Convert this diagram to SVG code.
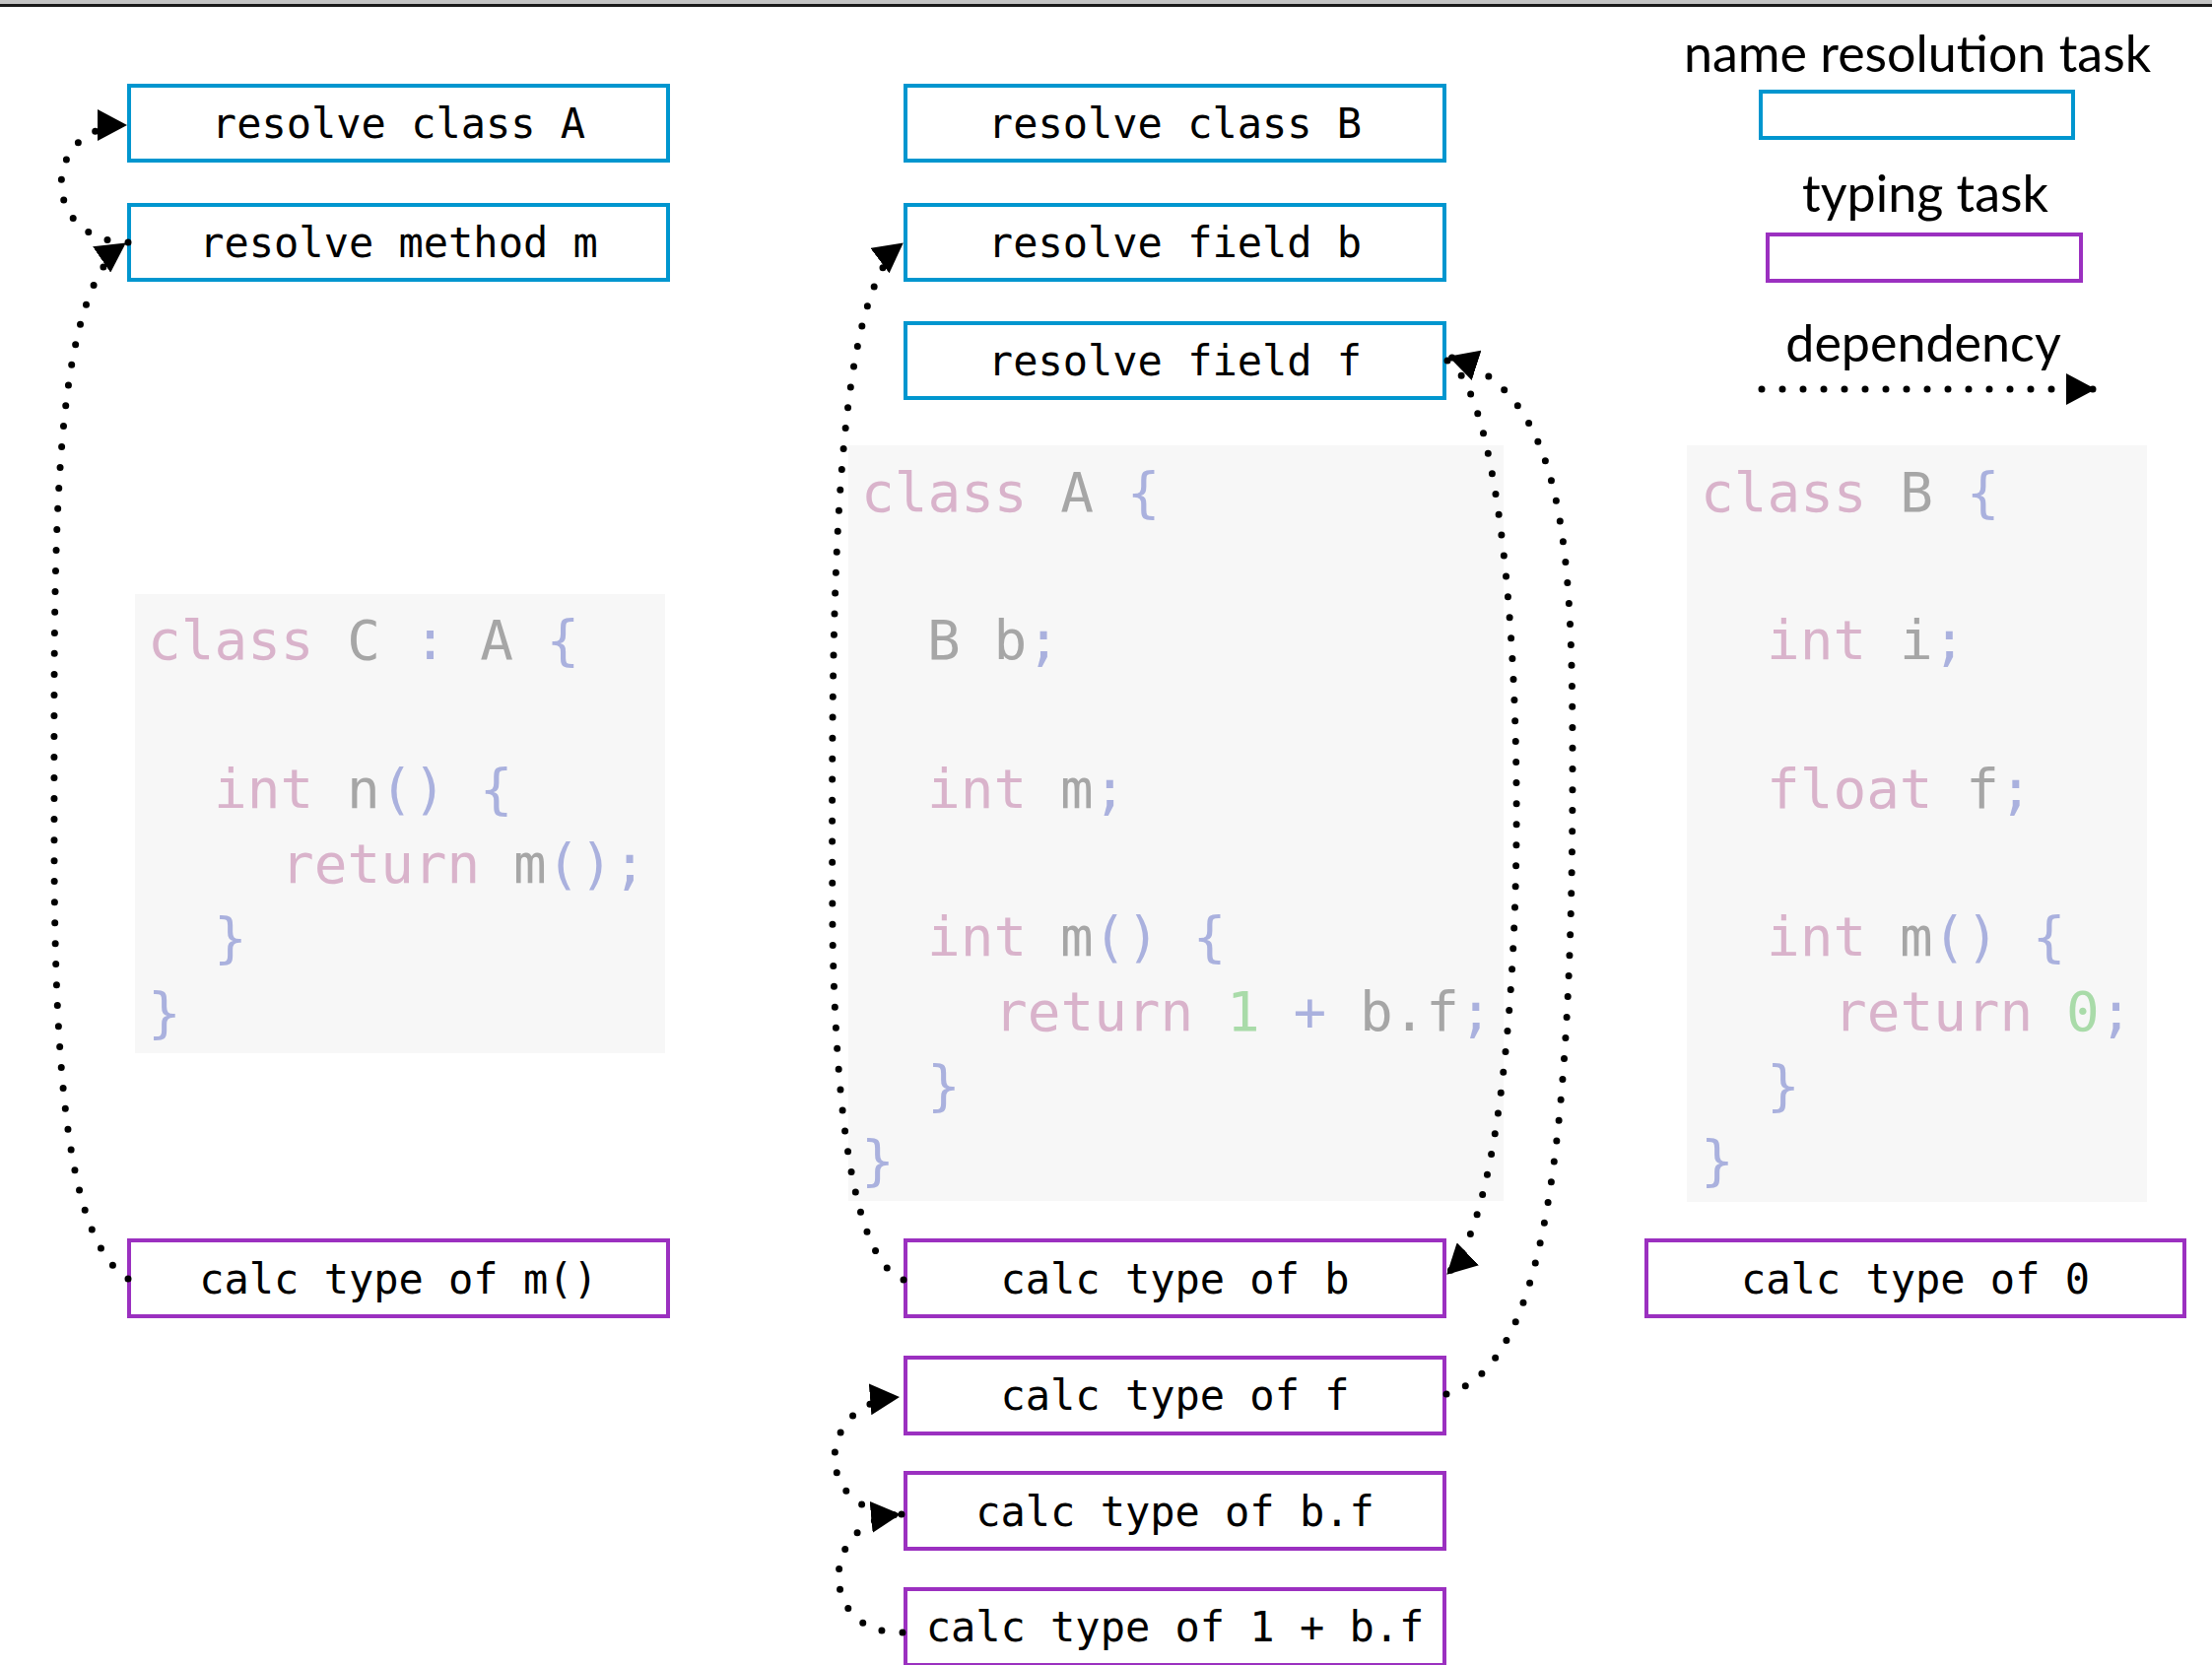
<svg xmlns="http://www.w3.org/2000/svg" width="2245" height="1690" viewBox="0 0 2245 1690">
<defs>
<style>
.task text, .lbl { font-family: "DejaVu Sans Mono", "Liberation Mono", monospace; font-size: 42px; fill: #000; text-anchor: middle; }
.nr { fill: #fff; stroke: #0096cf; stroke-width: 4; }
.ty { fill: #fff; stroke: #9b30c0; stroke-width: 4; }
.panel { fill: #f7f7f7; }
.code { font-family: "DejaVu Sans Mono", "Liberation Mono", monospace; font-size: 56px; }
.kw { fill: #d9b3cb; }
.id { fill: #a6a6a6; }
.pu { fill: #aab1de; }
.nu { fill: #a9dba9; }
.dep { fill: none; stroke: #000; stroke-width: 7; stroke-linecap: round; stroke-dasharray: 0 21; marker-end: url(#ah); }
.legend-text { font-family: "Lato", "Open Sans", sans-serif; font-size: 52px; fill: #000; text-anchor: middle; }
</style>
<marker id="ah" markerUnits="userSpaceOnUse" markerWidth="30" markerHeight="32" viewBox="0 0 30 32" refX="29" refY="16" orient="auto">
<path d="M0,0 L30,16 L0,32 z" fill="#000"/>
</marker>
</defs>
<rect x="0" y="0" width="2245" height="1690" fill="#fff"/>
<rect x="0" y="0" width="2245" height="4" fill="#c4c4c4"/>
<rect x="0" y="4" width="2245" height="3" fill="#1a1a1a"/>

<g id="panel-class-C">
<rect class="panel" x="137" y="603" width="538" height="466"/>
<text class="code" xml:space="preserve" x="150" y="669"><tspan class="kw">class</tspan> <tspan class="id">C</tspan> <tspan class="pu">:</tspan> <tspan class="id">A</tspan> <tspan class="pu">{</tspan></text>
<text class="code" xml:space="preserve" x="217" y="820"><tspan class="kw">int</tspan> <tspan class="id">n</tspan><tspan class="pu">()</tspan> <tspan class="pu">{</tspan></text>
<text class="code" xml:space="preserve" x="285" y="896"><tspan class="kw">return</tspan> <tspan class="id">m</tspan><tspan class="pu">();</tspan></text>
<text class="code pu" x="217" y="971">}</text>
<text class="code pu" x="150" y="1047">}</text>
</g>

<g id="panel-class-A">
<rect class="panel" x="861" y="452" width="665" height="767"/>
<text class="code" xml:space="preserve" x="874" y="519"><tspan class="kw">class</tspan> <tspan class="id">A</tspan> <tspan class="pu">{</tspan></text>
<text class="code" xml:space="preserve" x="941" y="669"><tspan class="id">B</tspan> <tspan class="id">b</tspan><tspan class="pu">;</tspan></text>
<text class="code" xml:space="preserve" x="941" y="820"><tspan class="kw">int</tspan> <tspan class="id">m</tspan><tspan class="pu">;</tspan></text>
<text class="code" xml:space="preserve" x="941" y="970"><tspan class="kw">int</tspan> <tspan class="id">m</tspan><tspan class="pu">()</tspan> <tspan class="pu">{</tspan></text>
<text class="code" xml:space="preserve" x="1009" y="1046"><tspan class="kw">return</tspan> <tspan class="nu">1</tspan> <tspan class="pu">+</tspan> <tspan class="id">b.f</tspan><tspan class="pu">;</tspan></text>
<text class="code pu" x="941" y="1121">}</text>
<text class="code pu" x="874" y="1197">}</text>
</g>

<g id="panel-class-B">
<rect class="panel" x="1712" y="452" width="467" height="768"/>
<text class="code" xml:space="preserve" x="1726" y="519"><tspan class="kw">class</tspan> <tspan class="id">B</tspan> <tspan class="pu">{</tspan></text>
<text class="code" xml:space="preserve" x="1793" y="669"><tspan class="kw">int</tspan> <tspan class="id">i</tspan><tspan class="pu">;</tspan></text>
<text class="code" xml:space="preserve" x="1793" y="820"><tspan class="kw">float</tspan> <tspan class="id">f</tspan><tspan class="pu">;</tspan></text>
<text class="code" xml:space="preserve" x="1793" y="970"><tspan class="kw">int</tspan> <tspan class="id">m</tspan><tspan class="pu">()</tspan> <tspan class="pu">{</tspan></text>
<text class="code" xml:space="preserve" x="1861" y="1046"><tspan class="kw">return</tspan> <tspan class="nu">0</tspan><tspan class="pu">;</tspan></text>
<text class="code pu" x="1793" y="1121">}</text>
<text class="code pu" x="1726" y="1197">}</text>
</g>

<g id="resolve-class-A" class="task"><rect class="nr" x="131" y="87" width="547" height="76"/><text x="404.5" y="140">resolve class A</text></g>
<g id="resolve-method-m" class="task"><rect class="nr" x="131" y="208" width="547" height="76"/><text x="404.5" y="261">resolve method m</text></g>
<g id="calc-type-m-call" class="task"><rect class="ty" x="131" y="1259" width="547" height="77"/><text x="404.5" y="1313">calc type of m()</text></g>

<g id="resolve-class-B" class="task"><rect class="nr" x="919" y="87" width="547" height="76"/><text x="1192.5" y="140">resolve class B</text></g>
<g id="resolve-field-b" class="task"><rect class="nr" x="919" y="208" width="547" height="76"/><text x="1192.5" y="261">resolve field b</text></g>
<g id="resolve-field-f" class="task"><rect class="nr" x="919" y="328" width="547" height="76"/><text x="1192.5" y="381">resolve field f</text></g>
<g id="calc-type-b" class="task"><rect class="ty" x="919" y="1259" width="547" height="77"/><text x="1192.5" y="1313">calc type of b</text></g>
<g id="calc-type-f" class="task"><rect class="ty" x="919" y="1378" width="547" height="77"/><text x="1192.5" y="1431">calc type of f</text></g>
<g id="calc-type-b-f" class="task"><rect class="ty" x="919" y="1495" width="547" height="77"/><text x="1192.5" y="1549">calc type of b.f</text></g>
<g id="calc-type-1-plus-b-f" class="task"><rect class="ty" x="919" y="1613" width="547" height="77"/><text x="1192.5" y="1666">calc type of 1 + b.f</text></g>

<g id="calc-type-0" class="task"><rect class="ty" x="1671" y="1259" width="546" height="77"/><text x="1944" y="1313">calc type of 0</text></g>

<g id="legend">
<text class="legend-text" x="1946" y="73">name resolution task</text>
<rect class="nr" x="1787" y="93" width="317" height="47"/>
<text class="legend-text" x="1954" y="215">typing task</text>
<rect class="ty" x="1794" y="238" width="318" height="47"/>
<text class="legend-text" x="1952" y="367">dependency</text>
<path class="dep" d="M1788,395 L2126,395"/>
</g>

<g id="connectors">
<path class="dep" d="M130,1298 C70,1260 55,1100 55,850 C55,560 50,300 127,247"/>
<path class="dep" d="M130,246 C40,246 40,127 128,127"/>
<path class="dep" d="M917,1299 C880,1285 850,1200 845,950 C843,600 846,300 916,247"/>
<path class="dep" d="M1469,366 C1560,420 1565,1200 1469,1293"/>
<path class="dep" d="M1468,1415 C1560,1390 1596,1200 1596,780 C1596,560 1590,400 1471,362"/>
<path class="dep" d="M915,1537 C825,1537 825,1425 912,1418"/>
<path class="dep" d="M916,1657 C830,1660 830,1545 913,1537"/>
</g>
</svg>
